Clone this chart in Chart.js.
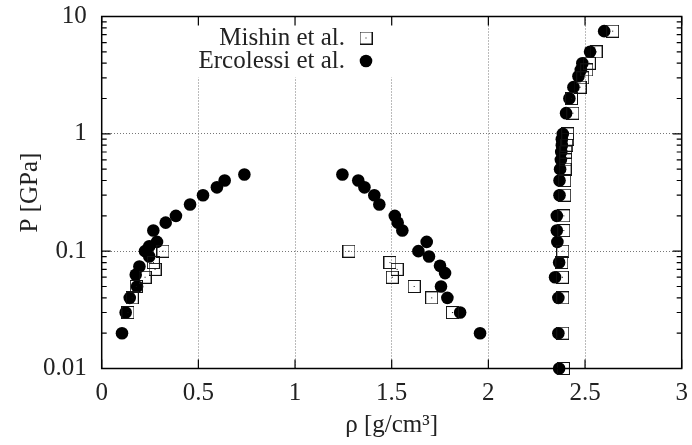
<!DOCTYPE html>
<html>
<head>
<meta charset="utf-8">
<script src="https://cdn.jsdelivr.net/npm/chart.js@4.4.1/dist/chart.umd.min.js"></script>
<style>
    html, body { margin: 0; padding: 0; background: #fff; }
    .container { width: 692px; height: 445px; }
</style>
</head>
<body>
<div class="container"><canvas id="chart" width="692" height="445"></canvas></div>
<script>
// Mishin et al. (open squares)
const mishinRho = [0.136, 0.158, 0.179, 0.224, 0.267, 0.276, 0.317,
    1.279, 1.491, 1.528, 1.503, 1.616, 1.707, 1.814,
    2.643, 2.557, 2.522, 2.509, 2.488, 2.474, 2.43, 2.437, 2.41, 2.41, 2.405, 2.40, 2.40, 2.397, 2.395, 2.395,
    2.39, 2.39, 2.385, 2.38, 2.383, 2.385, 2.385, 2.388];
const mishinP = [0.03, 0.04, 0.05, 0.06, 0.08, 0.07, 0.1,
    0.1, 0.08, 0.07, 0.06, 0.05, 0.04, 0.03,
    7.5, 5, 4, 3.5, 3, 2.5, 2, 1.5, 1.0, 0.9, 0.8, 0.7, 0.6, 0.5, 0.4, 0.3,
    0.2, 0.15, 0.1, 0.08, 0.06, 0.04, 0.02, 0.01];

// Ercolessi et al. (filled circles)
const ercolessiRho = [0.105, 0.124, 0.145, 0.183, 0.176, 0.195, 0.224, 0.246, 0.246, 0.286, 0.267, 0.331, 0.384,
    0.457, 0.524, 0.596, 0.636, 0.738,
    1.245, 1.327, 1.359, 1.41, 1.436, 1.516, 1.531, 1.555, 1.681, 1.638, 1.693, 1.75, 1.776, 1.755, 1.788,
    1.854, 1.957,
    2.599, 2.526, 2.486, 2.478, 2.466, 2.44, 2.419, 2.402, 2.385, 2.38, 2.38, 2.377, 2.375, 2.371, 2.368,
    2.368, 2.354, 2.354, 2.357, 2.366, 2.345, 2.362, 2.362, 2.366];
const ercolessiP = [0.02, 0.03, 0.04, 0.05, 0.063, 0.074, 0.1, 0.09, 0.11, 0.12, 0.15, 0.175, 0.2,
    0.25, 0.3, 0.35, 0.4, 0.45,
    0.45, 0.4, 0.35, 0.3, 0.25, 0.2, 0.175, 0.15, 0.12, 0.1, 0.09, 0.075, 0.065, 0.05, 0.04,
    0.03, 0.02,
    7.5, 5, 4, 3.5, 3.1, 2.5, 2, 1.5, 1.0, 0.9, 0.8, 0.7, 0.6, 0.5, 0.4,
    0.3, 0.2, 0.15, 0.12, 0.08, 0.06, 0.04, 0.02, 0.01];

const seriesLabels = ['Mishin et al.', 'Ercolessi et al.'];

// axis ticks
const xTicks = [0, 0.5, 1, 1.5, 2, 2.5, 3];
const xTickLabels = ['0', '0.5', '1', '1.5', '2', '2.5', '3'];
const yTicks = [0.01, 0.1, 1, 10];
const yTickLabels = ['0.01', '0.1', '1', '10'];
const xTitle = 'ρ [g/cm³]';
const yTitle = 'P [GPa]';

const FONT = "'Liberation Serif', 'Times New Roman', serif";
const TEXT = '#222';

// square with a dot in the middle, like gnuplot's boxdot
const boxDot = document.createElement('canvas');
boxDot.width = 13;
boxDot.height = 13;
{
    const c = boxDot.getContext('2d');
    c.strokeStyle = '#111';
    c.lineWidth = 1;
    c.strokeRect(0.5, 0.5, 12, 12);
    c.fillStyle = '#111';
    c.fillRect(6, 6, 1, 1);
}

const toPoints = (xs, ys) => xs.map((x, i) => ({ x: x, y: ys[i] }));

// frame, inward ticks (gnuplot style) and the legend box
const framePlugin = {
    id: 'frame',
    beforeDatasetsDraw(chart) {
        // the key box is opaque, it hides the grid behind it
        const ctx = chart.ctx;
        ctx.save();
        ctx.fillStyle = '#fff';
        ctx.fillRect(170, chart.chartArea.top + 1, 232, 60);
        ctx.restore();
    },
    afterDraw(chart) {
        const ctx = chart.ctx;
        const area = chart.chartArea;
        const xs = chart.scales.x;
        const ys = chart.scales.y;
        ctx.save();
        ctx.strokeStyle = '#000';
        ctx.lineWidth = 1.5;
        ctx.strokeRect(area.left, area.top, area.right - area.left, area.bottom - area.top);

        ctx.lineWidth = 1.2;
        ctx.beginPath();
        xTicks.forEach(v => {
            const px = xs.getPixelForValue(v);
            ctx.moveTo(px, area.bottom); ctx.lineTo(px, area.bottom - 9);
            ctx.moveTo(px, area.top); ctx.lineTo(px, area.top + 9);
        });
        yTicks.forEach(v => {
            const py = ys.getPixelForValue(v);
            ctx.moveTo(area.left, py); ctx.lineTo(area.left + 9, py);
            ctx.moveTo(area.right, py); ctx.lineTo(area.right - 9, py);
        });
        // minor ticks on the log axis
        for (let d = 0; d < yTicks.length - 1; d++) {
            for (let m = 2; m <= 9; m++) {
                const py = ys.getPixelForValue(yTicks[d] * m);
                ctx.moveTo(area.left, py); ctx.lineTo(area.left + 5, py);
                ctx.moveTo(area.right, py); ctx.lineTo(area.right - 5, py);
            }
        }
        ctx.stroke();

        // legend: text right aligned, marker to the right
        ctx.font = '25px ' + FONT;
        ctx.fillStyle = TEXT;
        ctx.textAlign = 'right';
        ctx.textBaseline = 'middle';
        const rows = [38, 61];
        ctx.fillText(chart.data.datasets[0].label, 345, rows[0]);
        ctx.drawImage(boxDot, 366 - 6.5, rows[0] - 6.5);
        ctx.fillText(chart.data.datasets[1].label, 345, rows[1]);
        ctx.fillStyle = '#000';
        ctx.beginPath();
        ctx.arc(366, rows[1], 6.3, 0, Math.PI * 2);
        ctx.fill();
        ctx.restore();
    }
};

const gridColor = (edges) => (c) => {
    if (c.tick && edges.includes(c.tick.value)) return 'rgba(0,0,0,0)';
    return '#777';
};

new Chart(document.getElementById('chart'), {
    type: 'scatter',
    data: {
        datasets: [{
            label: seriesLabels[0],
            data: toPoints(mishinRho, mishinP),
            pointStyle: boxDot,
            pointRadius: 6,
            clip: false,
        }, {
            label: seriesLabels[1],
            data: toPoints(ercolessiRho, ercolessiP),
            pointStyle: 'circle',
            pointRadius: 6.3,
            pointBorderWidth: 0,
            backgroundColor: '#000',
            borderColor: '#000',
            clip: false,
        }]
    },
    options: {
        responsive: false,
        animation: false,
        layout: {
            padding: { left: 0, right: 10.3, top: 16.5, bottom: 0 }
        },
        plugins: {
            legend: { display: false },
            tooltip: { enabled: false }
        },
        scales: {
            x: {
                type: 'linear',
                min: 0,
                max: 3,
                afterBuildTicks: (axis) => { axis.ticks = xTicks.map(v => ({ value: v })); },
                afterFit: (axis) => {
                    axis.height = 76.5;
                    // don't let the label overflow push the plot area in
                    axis.paddingLeft = 0;
                    axis.paddingRight = 0;
                },
                ticks: {
                    color: TEXT,
                    font: { family: FONT, size: 25 },
                    padding: 10,
                    maxRotation: 0,
                    callback: (value, index) => xTickLabels[index],
                },
                grid: {
                    drawTicks: false,
                    lineWidth: 1,
                    color: gridColor([0, 3]),
                },
                border: { display: false, dash: [1, 2] },
                title: {
                    display: true,
                    text: xTitle,
                    color: TEXT,
                    font: { family: FONT, size: 25 },
                    padding: { top: 0, bottom: 5 },
                }
            },
            y: {
                type: 'logarithmic',
                min: 0.01,
                max: 10,
                afterBuildTicks: (axis) => { axis.ticks = yTicks.map(v => ({ value: v })); },
                afterFit: (axis) => {
                    axis.width = 101.7;
                    axis.paddingTop = 0;
                    axis.paddingBottom = 0;
                },
                ticks: {
                    color: TEXT,
                    font: { family: FONT, size: 25 },
                    padding: 15,
                    callback: (value, index) => yTickLabels[index],
                },
                grid: {
                    drawTicks: false,
                    lineWidth: 1,
                    color: gridColor([0.01, 10]),
                },
                border: { display: false, dash: [1, 2] },
                title: {
                    display: true,
                    text: yTitle,
                    color: TEXT,
                    font: { family: FONT, size: 25 },
                    padding: { top: 15, bottom: 0 },
                }
            }
        }
    },
    plugins: [framePlugin]
});
</script>
</body>
</html>
